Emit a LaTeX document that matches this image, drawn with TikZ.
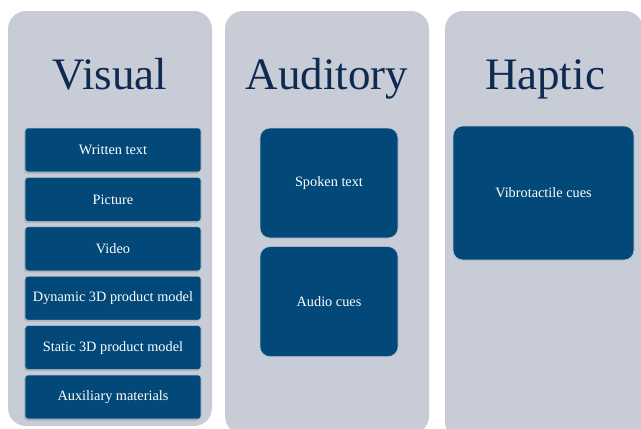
\documentclass[tikz,border=0pt]{standalone}
\usepackage{fontspec}
\setmainfont{Liberation Serif}
\usetikzlibrary{positioning,shadows}
\definecolor{panelgrey}{HTML}{C8CCD7}
\definecolor{boxblue}{HTML}{02497A}
\definecolor{titleblue}{HTML}{0F2A50}
\definecolor{boxedge}{HTML}{B4C2D0}

\begin{document}
\begin{tikzpicture}[x=1pt,y=-1pt,
    panel/.style={fill=panelgrey,rounded corners=18pt},
    heading/.style={anchor=base,text=titleblue,font=\fontsize{45}{50}\selectfont},
    cue/.style={draw=boxedge,line width=0.6pt,fill=boxblue,text=white,
      font=\fontsize{14.3}{16}\selectfont,rounded corners=3pt,
      minimum width=176pt,minimum height=44pt},
    smallcue/.style={cue,drop shadow={shadow xshift=-1pt,shadow yshift=-1.5pt,fill=black!40}},
    bigcue/.style={cue,rounded corners=10pt}]
  \useasboundingbox (0,0) rectangle (641,429);
  % the three columns
  \fill[panel] (8,11) rectangle (212,426);
  \fill[panel] (225,11) rectangle (429,434);
  \fill[panel] (445,11) rectangle (643,440);
  \node[heading] (visual) at (110,89) {Visual};
  \node[heading] (auditory) at (327,89) {Auditory};
  \node[heading] (haptic) at (545,89) {Haptic};
  % visual
  \node[smallcue] (written) at (113,150) {Written text};
  \node[smallcue,below=4.8pt of written] (picture) {Picture};
  \node[smallcue,below=4.8pt of picture] (video) {Video};
  \node[smallcue,below=4.8pt of video] (dynamic) {Dynamic 3D product model};
  \node[smallcue,below=4.8pt of dynamic] (static) {Static 3D product model};
  \node[smallcue,below=4.8pt of static] (auxiliary) {Auxiliary materials};
  % auditory
  \node[bigcue,minimum width=138pt,minimum height=110pt] (spoken) at (329,183) {Spoken text};
  \node[bigcue,minimum width=138pt,minimum height=110pt,below=8pt of spoken] (audio) {Audio cues};
  % haptic
  \node[bigcue,minimum width=181pt,minimum height=134pt] (vibro) at (543.5,193) {Vibrotactile cues};
\end{tikzpicture}
\end{document}
